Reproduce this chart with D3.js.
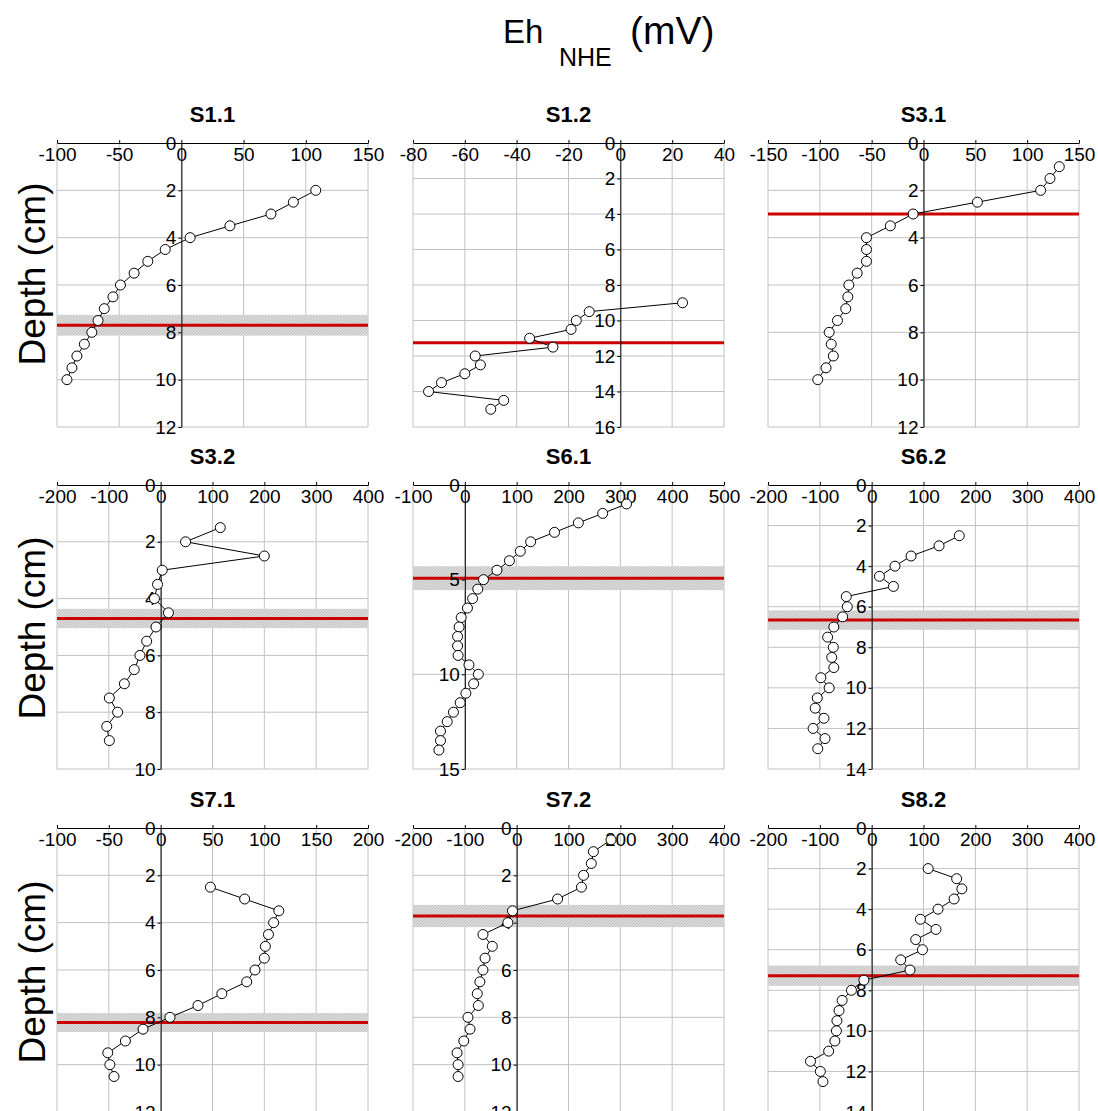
<!DOCTYPE html>
<html>
<head>
<meta charset="utf-8">
<script src="https://cdn.jsdelivr.net/npm/d3@7"></script>
<style>
body { margin: 0; background: #fff; }
text { font-family: "Liberation Sans", Arial, Helvetica, sans-serif; }
</style>
</head>
<body>
<script>
// panel setup
const panelNames = ["S1.1", "S1.2", "S3.1", "S3.2", "S6.1", "S6.2", "S7.1", "S7.2", "S8.2"];
const xDomains = [[-100, 150], [-80, 40], [-150, 150], [-200, 400], [-100, 500], [-200, 400], [-100, 200], [-200, 400], [-200, 400]];
const xTickSteps = [50, 20, 50, 100, 100, 100, 50, 100, 100];
const yMax = [12, 16, 12, 10, 15, 14, 12, 12, 14];
const yTickSteps = [2, 2, 2, 2, 5, 2, 2, 2, 2];
// red line = depth marker, band = its uncertainty (0 = no band)
const redDepths = [7.7, 11.25, 3.0, 4.7, 4.92, 6.66, 8.22, 3.72, 7.28];
const bandHalf = [0.44, 0, 0, 0.34, 0.63, 0.48, 0.4, 0.47, 0.5];

// profiles: depth (cm) and Eh (mV)
const s11Depth = [2, 2.5, 3, 3.5, 4, 4.5, 5, 5.5, 6, 6.5, 7, 7.5, 8, 8.5, 9, 9.5, 10];
const s11Eh = [108, 90, 72, 39, 7, -13, -27, -38, -49, -55, -62, -67, -72, -78, -84, -88, -92];
const s12Depth = [9, 9.5, 10, 10.5, 11, 11.5, 12, 12.5, 13, 13.5, 14, 14.5, 15];
const s12Eh = [24, -12, -17, -19, -35, -26, -56, -54, -60, -69, -74, -45, -50];
const s31Depth = [1, 1.5, 2, 2.5, 3, 3.5, 4, 4.5, 5, 5.5, 6, 6.5, 7, 7.5, 8, 8.5, 9, 9.5, 10];
const s31Eh = [131, 122, 113, 52, -10, -32, -55, -55, -55, -64, -72, -73, -75, -83, -91, -89, -87, -94, -102];
const s32Depth = [1.5, 2, 2.5, 3, 3.5, 4, 4.5, 5, 5.5, 6, 6.5, 7, 7.5, 8, 8.5, 9];
const s32Eh = [115, 48, 200, 3, -6, -12, 15, -9, -27, -40, -51, -70, -99, -83, -104, -99];
const s61Depth = [1, 1.5, 2, 2.5, 3, 3.5, 4, 4.5, 5, 5.5, 6, 6.5, 7, 7.5, 8, 8.5, 9, 9.5, 10, 10.5, 11, 11.5, 12, 12.5, 13, 13.5, 14];
const s61Eh = [312, 266, 219, 173, 127, 107, 86, 62, 36, 25, 15, 5, -7, -11, -14, -14, -13, 8, 26, 17, 2, -9, -22, -34, -47, -47, -50];
const s62Depth = [2.5, 3, 3.5, 4, 4.5, 5, 5.5, 6, 6.5, 7, 7.5, 8, 8.5, 9, 9.5, 10, 10.5, 11, 11.5, 12, 12.5, 13];
const s62Eh = [169, 130, 76, 45, 15, 42, -49, -47, -56, -73, -85, -74, -77, -73, -98, -82, -105, -109, -92, -113, -90, -104];
const s71Depth = [2.5, 3, 3.5, 4, 4.5, 5, 5.5, 6, 6.5, 7, 7.5, 8, 8.5, 9, 9.5, 10, 10.5];
const s71Eh = [48, 81, 114, 109, 104, 101, 100, 91, 83, 59, 36, 9, -17, -34, -51, -49, -45];
const s72Depth = [0.5, 1, 1.5, 2, 2.5, 3, 3.5, 4, 4.5, 5, 5.5, 6, 6.5, 7, 7.5, 8, 8.5, 9, 9.5, 10, 10.5];
const s72Eh = [182, 148, 144, 129, 125, 79, -8, -17, -65, -47, -61, -65, -71, -76, -74, -94, -90, -102, -115, -113, -113];
const s82Depth = [2, 2.5, 3, 3.5, 4, 4.5, 5, 5.5, 6, 6.5, 7, 7.5, 8, 8.5, 9, 9.5, 10, 10.5, 11, 11.5, 12, 12.5];
const s82Eh = [109, 164, 174, 159, 128, 94, 124, 85, 98, 56, 74, -15, -39, -57, -63, -67, -68, -71, -83, -118, -99, -94];

const depths = [s11Depth, s12Depth, s31Depth, s32Depth, s61Depth, s62Depth, s71Depth, s72Depth, s82Depth];
const ehs = [s11Eh, s12Eh, s31Eh, s32Eh, s61Eh, s62Eh, s71Eh, s72Eh, s82Eh];

// layout
const colLeft = [57, 413, 768];
const rowTop = [143, 485, 828];
const labelMid = [274, 628, 972];
const plotW = 311, plotH = 284;

const svg = d3.select("body").append("svg")
    .attr("width", 1098).attr("height", 1111);

const pat = svg.append("defs").append("pattern")
    .attr("id", "hatch").attr("patternUnits", "userSpaceOnUse")
    .attr("width", 3).attr("height", 3);
pat.append("rect").attr("width", 3).attr("height", 3).attr("fill", "#dadada");
pat.append("path").attr("d", "M0,3 L3,0").attr("stroke", "#bdbdbd").attr("stroke-width", 0.8);

// main title
const title = svg.append("g");
title.append("text").attr("x", 503).attr("y", 43).attr("font-size", 33).text("Eh");
title.append("text").attr("x", 559).attr("y", 66).attr("font-size", 25).text("NHE");
title.append("text").attr("x", 630).attr("y", 44).attr("font-size", 39).text("(mV)");

// depth labels, one per row
labelMid.forEach(m => {
    svg.append("text")
    .attr("transform", "translate(45," + m + ") rotate(-90)")
    .attr("text-anchor", "middle").attr("font-size", 37)
    .text("Depth (cm)");
});

panelNames.forEach((name, i) => {
    const left = colLeft[i % 3], top = rowTop[Math.floor(i / 3)];
    const x = d3.scaleLinear().domain(xDomains[i]).range([left, left + plotW]);
    const y = d3.scaleLinear().domain([0, yMax[i]]).range([top, top + plotH]);
    const xt = d3.range(xDomains[i][0], xDomains[i][1] + 0.001, xTickSteps[i]);
    const yt = d3.range(0, yMax[i] + 0.001, yTickSteps[i]);
    const g = svg.append("g").attr("id", "p" + i);

    // grid
    g.selectAll(".vg").data(xt).enter().append("line")
    .attr("x1", d => x(d)).attr("x2", d => x(d))
    .attr("y1", top).attr("y2", top + plotH)
    .attr("stroke", "#c2c2c2").attr("stroke-width", 1);
    g.selectAll(".hg").data(yt.slice(1)).enter().append("line")
    .attr("x1", left).attr("x2", left + plotW)
    .attr("y1", d => y(d)).attr("y2", d => y(d))
    .attr("stroke", "#c2c2c2").attr("stroke-width", 1);

    // band + red marker
    if (bandHalf[i] > 0) {
        g.append("rect")
        .attr("x", left).attr("width", plotW)
        .attr("y", y(redDepths[i] - bandHalf[i]))
        .attr("height", y(redDepths[i] + bandHalf[i]) - y(redDepths[i] - bandHalf[i]))
        .attr("fill", "url(#hatch)");
    }
    g.append("line")
    .attr("x1", left).attr("x2", left + plotW)
    .attr("y1", y(redDepths[i])).attr("y2", y(redDepths[i]))
    .attr("stroke", "#cc0000").attr("stroke-width", 3);

    // top axis, labels below the line
    const xa = g.append("g").attr("transform", "translate(0," + top + ")")
    .call(d3.axisTop(x).tickValues(xt).tickSize(3).tickSizeOuter(0).tickFormat(d => String(d)));
    xa.selectAll("text").attr("y", 18).attr("dy", 0).attr("font-size", 19).attr("fill", "#000");
    xa.attr("font-family", null).attr("font-size", null);
    xa.selectAll("path, line").attr("stroke", "#000");

    // depth axis at Eh = 0
    const ya = g.append("g").attr("transform", "translate(" + x(0) + ",0)")
    .call(d3.axisLeft(y).tickValues(yt).tickSize(3).tickPadding(2).tickSizeOuter(0));
    ya.selectAll("text").attr("font-size", 19).attr("fill", "#000");
    ya.attr("font-family", null).attr("font-size", null);
    ya.selectAll("path, line").attr("stroke", "#000");

    // profile
    const pts = depths[i].map((d, k) => ({depth: d, eh: ehs[i][k]}));
    g.append("path").datum(pts)
    .attr("d", d3.line().x(d => x(d.eh)).y(d => y(d.depth)))
    .attr("fill", "none").attr("stroke", "#000").attr("stroke-width", 1);
    g.selectAll("circle").data(pts).enter().append("circle")
    .attr("cx", d => x(d.eh)).attr("cy", d => y(d.depth)).attr("r", 5)
    .attr("fill", "#fff").attr("stroke", "#000").attr("stroke-width", 1);

    // panel title
    g.append("text")
    .attr("x", left + plotW / 2).attr("y", top - 21)
    .attr("text-anchor", "middle").attr("font-size", 22).attr("font-weight", "bold")
    .text(name);
});
</script>
</body>
</html>
